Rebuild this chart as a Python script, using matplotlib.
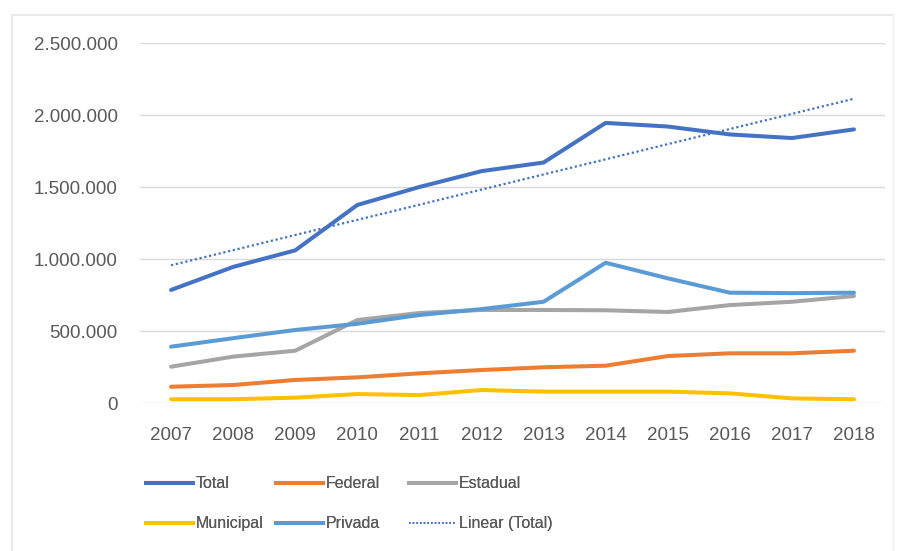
import numpy as np
import matplotlib.pyplot as plt
from matplotlib.lines import Line2D

# Matrículas por rede, 2007-2018
anos = [2007, 2008, 2009, 2010, 2011, 2012, 2013, 2014, 2015, 2016, 2017, 2018]
total = [785000, 945000, 1060000, 1375000, 1500000, 1610000, 1670000, 1945000, 1920000, 1865000, 1840000, 1900000]
federal = [113000, 125000, 160000, 178000, 206000, 229000, 248000, 259000, 326000, 345000, 345000, 363000]
estadual = [252000, 322000, 363000, 576000, 625000, 646000, 646000, 644000, 632000, 680000, 703000, 743000]
municipal = [26000, 26000, 37000, 62000, 55000, 90000, 79000, 79000, 79000, 67000, 32000, 26000]
privada = [391000, 450000, 507000, 550000, 611000, 652000, 703000, 974000, 866000, 766000, 763000, 766000]

yticks = [0, 500000, 1000000, 1500000, 2000000, 2500000]
ytick_labels = ["0", "500.000", "1.000.000", "1.500.000", "2.000.000", "2.500.000"]

plt.rcParams['font.family'] = ['Liberation Sans', 'DejaVu Sans']
text_color = "#595959"

W, H = 902, 551
fig = plt.figure(figsize=(W / 100, H / 100), dpi=100)
ax = fig.add_axes([140 / W, 1 - 403 / H, (885 - 140) / W, (403 - 43) / H])

x = np.arange(len(anos))
lw = 2.9
ax.plot(x, total, color="#4472C4", lw=lw, solid_capstyle="round", zorder=3)
ax.plot(x, federal, color="#ED7D31", lw=lw, solid_capstyle="round", zorder=3)
ax.plot(x, estadual, color="#A5A5A5", lw=lw, solid_capstyle="round", zorder=3)
ax.plot(x, municipal, color="#FFC000", lw=lw, solid_capstyle="round", zorder=3)
ax.plot(x, privada, color="#5B9BD5", lw=lw, solid_capstyle="round", zorder=3)

# linear trend of the total
coef = np.polyfit(x, total, 1)
ax.plot(x, np.polyval(coef, x), color="#4472C4", lw=1.6, ls=(0, (1, 1.2)), zorder=2)

ax.set_xlim(-0.5, len(anos) - 0.5)
ax.set_ylim(0, 2500000)
ax.set_xticks(x)
ax.set_xticklabels([str(a) for a in anos])
ax.set_yticks(yticks)
ax.set_yticklabels(ytick_labels)
ax.tick_params(length=0, labelsize=13.5, colors=text_color)
ax.tick_params(axis="x", pad=17)
ax.tick_params(axis="y", pad=16)
ax.grid(axis="y", color="#D9D9D9", lw=1)
ax.set_axisbelow(True)
for s in ax.spines.values():
    s.set_visible(False)

# chart area border
fig.add_artist(Line2D([12 / W, 893 / W], [1 - 15 / H, 1 - 15 / H], color="#E6E6E6", lw=1.2))
fig.add_artist(Line2D([12 / W, 12 / W], [0, 1 - 15 / H], color="#E6E6E6", lw=1.2))
fig.add_artist(Line2D([893 / W, 893 / W], [0, 1 - 15 / H], color="#F0F0F0", lw=1.0))

# legend: three evenly spaced columns of two entries
columns = [
    ([Line2D([], [], color="#4472C4", lw=lw), Line2D([], [], color="#FFC000", lw=lw)],
     ["Total", "Municipal"], 132),
    ([Line2D([], [], color="#ED7D31", lw=lw), Line2D([], [], color="#5B9BD5", lw=lw)],
     ["Federal", "Privada"], 262),
    ([Line2D([], [], color="#A5A5A5", lw=lw), Line2D([], [], color="#4472C4", lw=1.2, ls=(0, (1, 1.2)))],
     ["Estadual", "Linear (Total)"], 395),
]
for hs, ls, xpos in columns:
    leg = fig.legend(hs, ls, loc="upper left", bbox_to_anchor=(xpos / W, 1 - 462 / H),
                     frameon=False, fontsize=11.5, handlelength=2.9, handletextpad=0.2,
                     labelspacing=1.55, labelcolor=text_color)
    fig.add_artist(leg)

fig.savefig("out.png", dpi=100, facecolor="white")
